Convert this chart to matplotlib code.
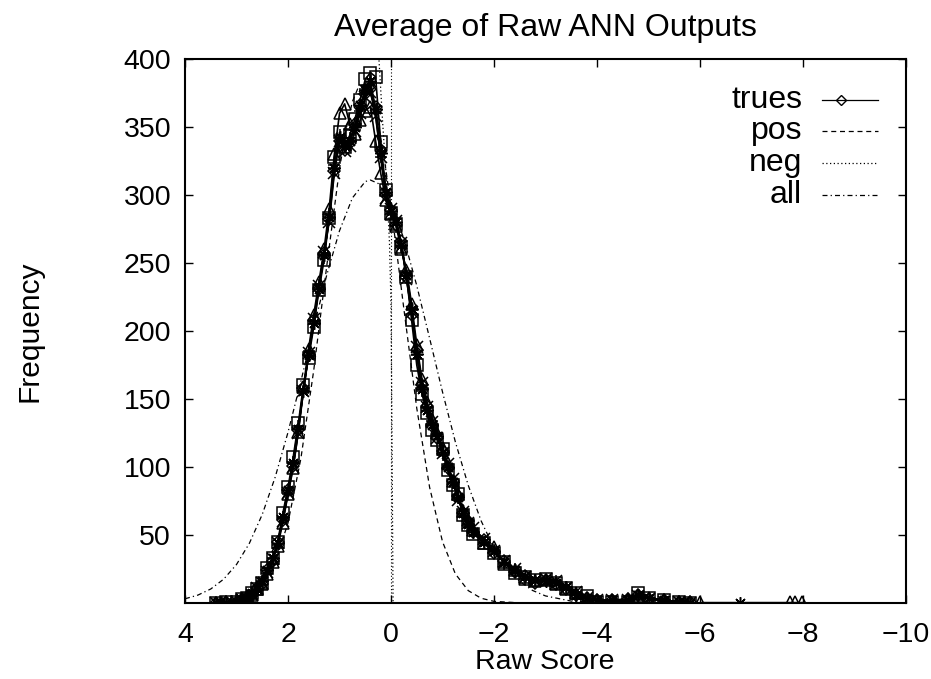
import matplotlib
matplotlib.use('Agg')
import matplotlib.pyplot as plt

plt.rcParams['font.family'] = ['Liberation Sans', 'DejaVu Sans']

# raw score bins shared by the six runs
score = [3.4, 3.2, 3.0, 2.9, 2.8, 2.7, 2.6, 2.5, 2.4, 2.3, 2.2, 2.1, 2.0, 1.9, 1.8, 1.7,
         1.6, 1.5, 1.4, 1.3, 1.2, 1.1, 1.0, 0.9, 0.8, 0.7, 0.6, 0.5, 0.4, 0.3, 0.2, 0.1,
         0.0, -0.1, -0.2, -0.3, -0.4, -0.5, -0.6, -0.7, -0.8, -0.9, -1.0, -1.1, -1.2, -1.3, -1.4, -1.5,
         -1.6, -1.8, -2.0, -2.2, -2.4, -2.6, -2.8, -3.0, -3.2, -3.4, -3.6, -3.8, -4.0, -4.3, -4.6, -4.8,
         -5.0, -5.3, -5.6, -5.8]

trues = [0, 0.5, 1, 3, 4, 6, 11, 14, 24, 31, 45, 61, 83, 101, 127, 158,
         182, 208, 231, 257, 282, 318, 340, 333, 338, 352, 366, 374, 378, 365, 333, 300,
         289, 278, 266, 240, 212, 186, 160, 145, 130, 121, 112, 99, 90, 79, 66, 60,
         52, 46, 37, 31, 23, 20, 15, 17, 14, 10, 6, 4, 2, 2, 3, 6,
         3, 2, 1, 1]
run_plus = [0, 0, 2, 2, 5, 7, 9, 16, 22, 33, 43, 63, 80, 104, 130, 155,
            185, 205, 234, 254, 286, 322, 344, 338, 342, 348, 362, 378, 382, 360, 328, 304,
            286, 282, 262, 243, 217, 182, 156, 141, 134, 124, 109, 101, 88, 77, 68, 58,
            54, 44, 39, 29, 25, 18, 17, 16, 16, 12, 7, 3, 2, 1, 2, 5,
            4, 2, 1, 0]
run_square = [0, 1, 1, 3, 4, 7, 10, 15, 26, 33, 45, 66, 85, 107, 132, 160,
              180, 203, 230, 252, 283, 328, 346, 335, 344, 356, 370, 385, 390, 387, 339, 304,
              287, 279, 262, 240, 208, 175, 154, 140, 127, 120, 113, 98, 87, 80, 65, 57,
              51, 44, 37, 30, 22, 19, 17, 18, 15, 11, 7, 5, 1, 1, 1, 7,
              4, 2, 1, 0]
run_cross = [0, 0, 1, 2, 3, 6, 11, 15, 23, 32, 44, 60, 81, 100, 125, 156,
             184, 209, 233, 258, 280, 316, 340, 332, 336, 347, 360, 372, 376, 358, 328, 298,
             290, 281, 265, 238, 214, 188, 162, 144, 133, 121, 110, 102, 91, 76, 67, 59,
             55, 47, 38, 31, 25, 19, 16, 18, 16, 11, 8, 4, 2, 2, 2, 5,
             3, 1, 1, 0]
run_triangle = [0, 1, 2, 3, 5, 6, 10, 14, 21, 30, 42, 59, 80, 99, 126, 159,
                187, 212, 236, 260, 290, 330, 360, 367, 352, 345, 355, 362, 365, 340, 316, 296,
                286, 277, 260, 245, 220, 190, 165, 148, 135, 125, 114, 103, 90, 80, 68, 61,
                54, 44, 41, 29, 24, 18, 16, 17, 14, 10, 7, 4, 2, 2, 3, 6,
                4, 2, 1, 1]
run_star = [0, 0, 1, 2, 4, 7, 10, 16, 24, 33, 44, 63, 83, 103, 128, 156,
            182, 206, 231, 256, 284, 320, 343, 336, 340, 350, 366, 377, 384, 363, 331, 302,
            288, 280, 263, 241, 216, 183, 157, 142, 131, 123, 111, 100, 89, 78, 66, 58,
            52, 45, 38, 30, 24, 20, 17, 16, 15, 12, 6, 4, 2, 2, 2, 6,
            4, 2, 1, 0]

# stray points far out in the right tail
triangle_tail_x = [-6.0, -7.75, -7.85, -7.98]
triangle_tail_y = [1, 1, 1, 1]
star_tail_x = [-6.78]
star_tail_y = [0]

# fitted curves
pos_x = [3.0, 2.75, 2.5, 2.25, 2.0, 1.75, 1.5, 1.25, 1.0, 0.875, 0.75, 0.625, 0.5, 0.375,
         0.25, 0.125, 0.0, -0.25, -0.5, -0.75, -1.0, -1.25, -1.5, -1.75, -2.0, -2.5]
pos_y = [1.8, 5.2, 13.0, 29.3, 58.9, 106.2, 171.2, 247.1, 319.1, 347.8, 368.6, 380.1, 381.2, 371.7,
         352.6, 325.4, 291.9, 216.2, 143.3, 85.0, 45.1, 21.4, 9.1, 3.5, 1.2, 0.1]

all_x = [4.0, 3.75, 3.5, 3.25, 3.0, 2.75, 2.5, 2.25, 2.0, 1.75, 1.5, 1.25, 1.0, 0.75, 0.5, 0.4,
         0.25, 0.0, -0.25, -0.5, -0.75, -1.0, -1.25, -1.5, -1.75, -2.0, -2.25, -2.5, -2.75, -3.0,
         -3.5, -4.0]
all_y = [3.1, 5.8, 10.3, 17.5, 28.3, 43.9, 65.1, 92.4, 125.5, 163.0, 202.5, 240.8, 273.7, 297.8, 309.9, 311.0,
         308.5, 293.9, 267.8, 233.4, 194.6, 155.2, 118.4, 86.5, 60.4, 40.3, 25.8, 15.8, 9.2, 5.2,
         1.4, 0.3]

neg_x = [0.25, 0.16, 0.08, 0.03, 0.0, -0.02, -0.04]
neg_y = [410, 352, 306, 265, 220, 120, 0]

x_ticks = [4, 2, 0, -2, -4, -6, -8, -10]
y_ticks = [50, 100, 150, 200, 250, 300, 350, 400]

W, H = 931, 679
fig = plt.figure(figsize=(W / 100, H / 100), dpi=100)
ax = fig.add_axes([185 / W, 1 - 603 / H, 721 / W, 544 / H])

ax.axvline(0, color='black', lw=0.8, linestyle=(0, (1, 2)))

runs = [
    (trues, 'D', 6),
    (run_plus, '+', 9),
    (run_square, 's', 8),
    (run_cross, 'x', 8),
    (run_triangle, '^', 8),
    (run_star, (8, 2, 0), 9),
]
for vals, mk, ms in runs:
    ax.plot(score, vals, color='black', lw=1.2, marker=mk, markersize=ms,
            markerfacecolor='none', markeredgecolor='black', markeredgewidth=1.1)
ax.plot(triangle_tail_x, triangle_tail_y, color='black', lw=1.0, marker='^', markersize=8,
        markerfacecolor='none', markeredgewidth=1.1)
ax.plot(star_tail_x, star_tail_y, color='black', lw=1.0, marker=(8, 2, 0), markersize=9,
        markeredgewidth=1.1)

ax.plot(pos_x, pos_y, color='black', lw=0.9, linestyle=(0, (4, 3)))
ax.plot(neg_x, neg_y, color='black', lw=0.9, linestyle=(0, (1, 2)))
ax.plot(all_x, all_y, color='black', lw=0.9, linestyle=(0, (4, 2.5, 1, 2.5)))

ax.set_xlim(4, -10)
ax.set_ylim(0, 400)
ax.set_xticks(x_ticks)
ax.set_yticks(y_ticks)
ax.tick_params(direction='in', length=6, width=1, top=True, right=True, labelsize=20.5)
ax.tick_params(axis='x', pad=14)
ax.tick_params(axis='y', pad=10)
for s in ax.spines.values():
    s.set_linewidth(1.5)

# gnuplot style key: right aligned labels, sample on the right
key_labels = ['trues', 'pos', 'neg', 'all']
key_styles = ['-', (0, (4, 3)), (0, (1, 2)), (0, (4, 2.5, 1, 2.5))]
key_y = [0.9246, 0.8676, 0.8088, 0.75]
for lab, ls, yy in zip(key_labels, key_styles, key_y):
    ax.text(0.8558, yy, lab, transform=ax.transAxes, ha='right', va='center', fontsize=23)
    ax.plot([0.8835, 0.9612], [yy, yy], transform=ax.transAxes, color='black',
            lw=0.9, linestyle=ls, clip_on=False)
ax.plot([0.9098], [key_y[0]], transform=ax.transAxes, marker='D', markersize=5,
        markerfacecolor='none', markeredgecolor='black', clip_on=False)

fig.text(545 / W, 1 - 28 / H, 'Average of Raw ANN Outputs', ha='center', va='center', fontsize=23)
fig.text(545 / W, 1 - 662 / H, 'Raw Score', ha='center', va='center', fontsize=20.5)
fig.text(30 / W, 1 - 331 / H, 'Frequency', ha='center', va='center', rotation=90, fontsize=21.5)

fig.savefig('out.png', dpi=100)
